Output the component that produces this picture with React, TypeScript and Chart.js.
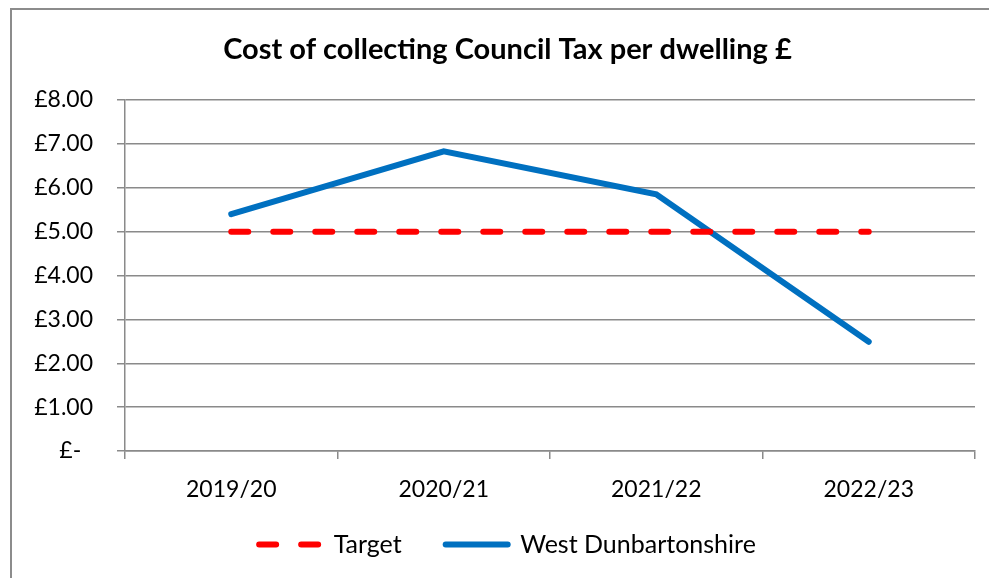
import React, { useEffect, useRef } from "react";
import { Chart, registerables } from "chart.js";

Chart.register(...registerables);

const categories = ["2019/20", "2020/21", "2021/22", "2022/23"];
const targetValues = [5, 5, 5, 5];
const westDunbartonshireValues = [5.4, 6.83, 5.85, 2.49];
const seriesNames = ["Target", "West Dunbartonshire"];
const chartTitle = "Cost of collecting Council Tax per dwelling £";

const FONT = "Lato, 'Open Sans', sans-serif";
const GRID = "#8a8a8a";

const legendShift = {
  id: "legendShift",
  afterLayout(chart: any) {
    const lg = chart.legend;
    if (lg) {
      lg.top -= 15;
      lg.bottom -= 15;
    }
  },
};

export default function App() {
  const ref = useRef<HTMLCanvasElement | null>(null);

  useEffect(() => {
    if (!ref.current) return;
    const chart = new Chart(ref.current, {
      type: "line",
      plugins: [legendShift],
      data: {
        labels: categories,
        datasets: [
          {
            label: seriesNames[0],
            data: targetValues,
            borderColor: "#FF0000",
            backgroundColor: "#FF0000",
            borderWidth: 6,
            borderDash: [17, 25],
            borderCapStyle: "round",
            pointRadius: 0,
            tension: 0,
          },
          {
            label: seriesNames[1],
            data: westDunbartonshireValues,
            borderColor: "#0070C0",
            backgroundColor: "#0070C0",
            borderWidth: 6,
            borderCapStyle: "round",
            pointRadius: 0,
            tension: 0,
          },
        ],
      },
      options: {
        responsive: false,
        animation: false,
        devicePixelRatio: 1,
        layout: { padding: { left: 26, right: 0, top: 0, bottom: 38 } },
        plugins: {
          title: {
            display: true,
            text: chartTitle,
            color: "#000",
            font: { family: FONT, size: 29, weight: "bold", lineHeight: 1.2 },
            padding: { top: 32.6, bottom: 32.6 },
          },
          legend: {
            position: "bottom",
            labels: {
              usePointStyle: true,
              pointStyle: "line",
              pointStyleWidth: 62,
              padding: 44,
              color: "#000",
              font: { family: FONT, size: 25 },
              generateLabels: (c: any) => {
                const items = Chart.defaults.plugins.legend.labels.generateLabels(c);
                items.forEach((it: any) => {
                  const ds: any = c.data.datasets[it.datasetIndex];
                  it.lineDash = ds.borderDash || [];
                  it.lineCap = ds.borderCapStyle || "butt";
                  it.lineWidth = ds.borderWidth;
                  it.strokeStyle = ds.borderColor;
                });
                return items;
              },
            },
          },
          tooltip: { enabled: false },
        },
        scales: {
          x: {
            offset: true,
            afterFit: (s: any) => {
              s.height = 52;
            },
            grid: {
              offset: true,
              drawOnChartArea: false,
              drawTicks: true,
              tickLength: 8,
              color: GRID,
              lineWidth: 1.5,
            },
            border: { display: true, color: GRID, width: 1.5 },
            ticks: {
              color: "#000",
              font: { family: FONT, size: 23 },
              padding: 17,
              maxRotation: 0,
            },
          },
          y: {
            min: 0,
            max: 8,
            afterFit: (s: any) => {
              s.width = 99;
            },
            grid: {
              color: GRID,
              lineWidth: 1.5,
              tickLength: 8,
            },
            border: { display: true, color: GRID, width: 1.5 },
            ticks: {
              stepSize: 1,
              color: "#000",
              font: { family: FONT, size: 23 },
              padding: 24,
              callback: (v: any) => (Number(v) === 0 ? "£-  " : "£" + Number(v).toFixed(2)),
            },
          },
          y2: {
            position: "right",
            display: true,
            afterFit: (s: any) => {
              s.width = 14;
            },
            grid: { drawOnChartArea: false, drawTicks: false, display: false },
            border: { display: false },
            ticks: { display: false },
          },
        },
      },
    });
    return () => chart.destroy();
  }, []);

  return (
    <>
      <div
        style={{
          position: "fixed",
          left: 10,
          top: 8,
          width: 1000,
          height: 620,
          borderLeft: "2px solid #8c8c8c",
          borderTop: "2px solid #8c8c8c",
          background: "#fff",
        }}
      />
      <canvas
        ref={ref}
        width={989}
        height={620}
        style={{ position: "fixed", left: 0, top: 0, width: 989, height: 620 }}
      />
    </>
  );
}
